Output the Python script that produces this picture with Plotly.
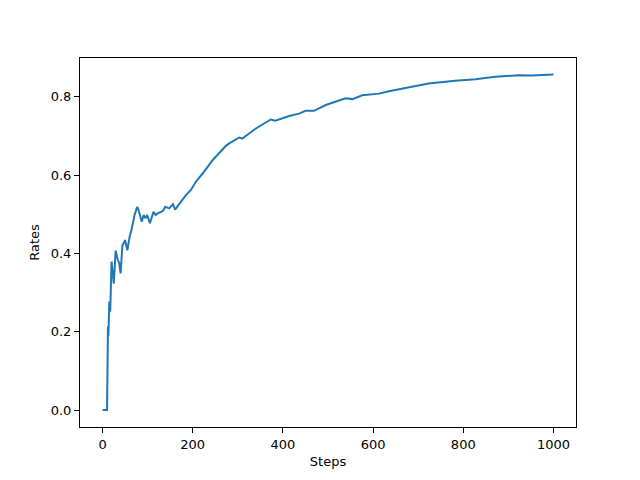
import plotly.graph_objects as go

steps = [0, 5, 10, 12, 13, 15, 17, 20, 23, 25, 29, 31, 34, 37, 40, 44, 50, 55, 60, 65, 71, 77, 80, 87,
         91, 95, 99, 105, 113, 118, 122, 130, 135, 139, 148, 156, 161, 174, 185, 196, 207, 222, 244,
         273, 281, 303, 310, 340, 373, 383, 414, 436, 450, 469, 495, 539, 554, 576, 613, 635, 665,
         723, 782, 827, 871, 923, 952, 1000]
rates = [0.0, 0.0, 0.0, 0.213, 0.19, 0.277, 0.251, 0.379, 0.33, 0.323, 0.407, 0.395, 0.383, 0.375, 0.349,
         0.42, 0.434, 0.408, 0.442, 0.464, 0.498, 0.519, 0.51, 0.481, 0.498, 0.49, 0.498, 0.477, 0.506,
         0.498, 0.502, 0.506, 0.51, 0.519, 0.515, 0.526, 0.512, 0.532, 0.549, 0.562, 0.583, 0.604, 0.638,
         0.674, 0.681, 0.696, 0.693, 0.719, 0.742, 0.739, 0.751, 0.757, 0.764, 0.764, 0.779, 0.796, 0.794,
         0.804, 0.808, 0.814, 0.821, 0.834, 0.841, 0.845, 0.851, 0.855, 0.854, 0.857]

fig = go.Figure(go.Scatter(x=steps, y=rates, mode="lines",
                           line=dict(color="#1f77b4", width=2)))

axis_common = dict(showline=True, mirror=True, linecolor="black", linewidth=1,
                   ticks="outside", ticklen=5, tickcolor="black", showgrid=False,
                   zeroline=False, tickfont=dict(family="DejaVu Sans", size=13, color="black"))

fig.update_layout(
    width=632, height=472,
    margin=dict(l=72, r=64, t=50, b=53),
    plot_bgcolor="white", paper_bgcolor="white",
    showlegend=False,
    xaxis=dict(range=[-50, 1050], tickvals=[0, 200, 400, 600, 800, 1000],
               title=dict(text="Steps", font=dict(family="DejaVu Sans", size=13, color="black"), standoff=6),
               **axis_common),
    yaxis=dict(range=[-0.0434, 0.899], tickvals=[0, 0.2, 0.4, 0.6, 0.8], tickformat=".1f",
               title=dict(text="Rates", font=dict(family="DejaVu Sans", size=13, color="black"), standoff=8),
               **axis_common),
)

fig.write_html("out.html")
